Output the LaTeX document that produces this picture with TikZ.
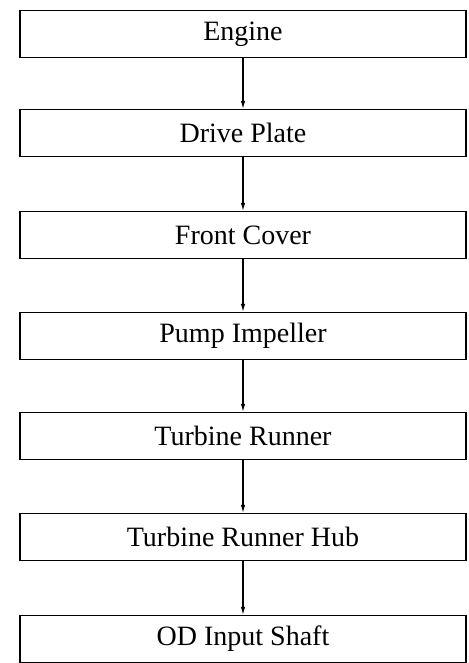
\documentclass[tikz,border=0pt]{standalone}
\usepackage{fontspec}
\setmainfont{Liberation Serif}
\usetikzlibrary{arrows.meta}
\begin{document}
\begin{tikzpicture}[x=1pt,y=1pt,
  partbox/.style={draw, line width=1.2pt, minimum width=446pt, minimum height=47pt, inner sep=0pt,
    font=\fontsize{28}{30}\selectfont},
  flow/.style={line width=1.2pt, -{Latex[length=8pt,width=4.5pt]}}]
\useasboundingbox (0,0) rectangle (468,-663);
\node[partbox] (n1) at (243,-34) {Engine};
\node[partbox] (n2) at (243,-133) {Drive Plate};
\node[partbox] (n3) at (243,-235) {Front Cover};
\node[partbox] (n4) at (243,-336) {Pump Impeller};
\node[partbox] (n5) at (243,-436) {Turbine Runner};
\node[partbox] (n6) at (243,-537) {Turbine Runner Hub};
\node[partbox] (n7) at (243,-639) {OD Input Shaft};
\draw[flow] (n1) -- (n2);
\draw[flow] (n2) -- (n3);
\draw[flow] (n3) -- (n4);
\draw[flow] (n4) -- (n5);
\draw[flow] (n5) -- (n6);
\draw[flow] (n6) -- (n7);
\end{tikzpicture}
\end{document}
